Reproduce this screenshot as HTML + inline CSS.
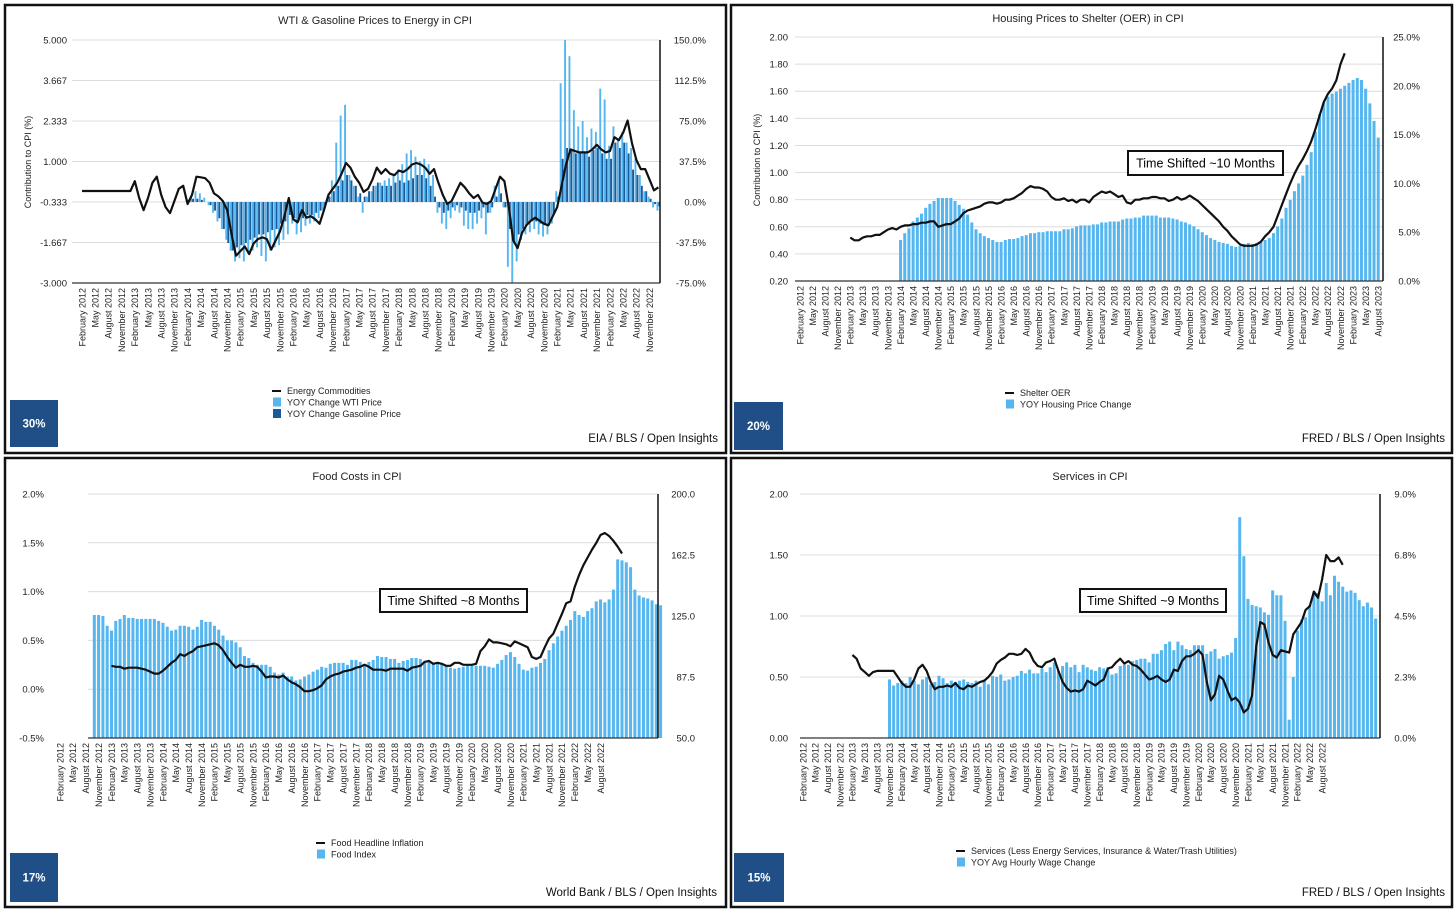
<!DOCTYPE html>
<html><head><meta charset="utf-8">
<style>
html,body{margin:0;padding:0;background:#fff;}
svg{display:block;font-family:"Liberation Sans",Arial,sans-serif;}
</style></head>
<body>
<svg id="root" width="1456" height="910" viewBox="0 0 1456 910"></svg>
<script>
// ---------- DATA (monthly, index 0 = February 2012) ----------
// Panel 1: Energy
const energyLine = [
 0.03,0.03,0.03,0.03,0.03,0.03,0.03,0.03,0.03,0.03,0.03,0.03,
 0.35,-0.2,-0.6,-0.2,0.3,0.5,-0.1,-0.5,-0.7,-0.3,0.1,0.2,
 -0.4,-0.1,0.5,0.48,0.45,0.3,-0.05,-0.15,-0.3,-0.6,-1.4,-2.1,
 -1.95,-1.8,-2.05,-1.7,-1.55,-1.5,-1.55,-1.9,-1.6,-1.3,-0.8,-0.2,
 -0.9,-1.0,-0.6,-0.85,-0.8,-0.9,-1.05,-0.6,-0.1,0.1,0.3,0.6,
 0.95,0.8,0.5,0.3,0.0,0.1,0.4,0.8,0.6,0.75,0.6,0.55,
 0.7,0.65,0.75,0.9,0.95,0.9,0.8,0.6,0.75,0.3,-0.1,-0.4,
 -0.3,0.0,0.3,0.15,-0.05,-0.2,-0.1,-0.35,-0.4,-0.3,0.1,0.5,
 0.35,-0.5,-1.6,-1.85,-1.35,-1.1,-0.95,-0.85,-0.95,-1.05,-1.1,-0.8,
 -0.5,0.2,0.9,1.4,1.35,1.3,1.3,1.3,1.4,1.55,1.4,1.3,
 1.35,1.8,1.7,1.95,2.35,1.6,1.05,0.75,0.75,0.4,0.05,0.15];
const energyBarStart = 24;
const wtiYoy = [
 2,6,10,8,4,-3,-10,-18,-25,-35,-45,-55,
 -52,-55,-48,-45,-42,-50,-55,-45,-42,-40,-35,-30,
 -20,-30,-28,-22,-20,-18,-15,-8,2,20,55,80,
 90,25,15,5,-10,5,10,15,18,20,22,25,
 30,35,45,48,42,38,40,35,25,-10,-20,-25,
 -15,-8,-10,-22,-25,-25,-20,-15,-30,-10,15,20,
 -5,-60,-75,-55,-35,-30,-28,-25,-30,-32,-30,-20,
 10,110,150,135,85,70,75,60,68,65,105,95,
 52,70,58,65,55,50,40,25,10,5,-5,-8];
const gasolineYoy = [
 2,3,3,2,0,-3,-8,-15,-25,-38,-45,-42,
 -40,-38,-35,-33,-30,-30,-28,-26,-25,-20,-18,-12,
 -15,-18,-15,-12,-12,-10,-8,-3,5,10,15,20,
 25,20,15,8,5,10,15,18,15,15,15,18,
 20,18,20,22,25,25,22,15,5,-5,-10,-8,
 -5,-3,-5,-8,-10,-10,-8,-5,-10,-5,5,8,
 -5,-25,-38,-30,-25,-20,-18,-18,-20,-20,-18,-10,
 5,40,50,48,45,45,45,42,48,50,45,40,
 40,55,50,55,45,30,25,15,10,3,-2,-4];
const energyLeftTicks = ["5.000","3.667","2.333","1.000","-0.333","-1.667","-3.000"];
const energyRightTicks = ["150.0%","112.5%","75.0%","37.5%","0.0%","-37.5%","-75.0%"];

// Panel 2: Housing
const shelterStart = 12;
const shelterLine = [
 0.52,0.50,0.50,0.52,0.53,0.53,0.54,0.54,0.56,0.58,0.59,0.58,
 0.60,0.61,0.61,0.62,0.62,0.63,0.63,0.64,0.64,0.60,0.61,0.62,
 0.62,0.64,0.66,0.70,0.72,0.73,0.74,0.75,0.77,0.78,0.78,0.77,
 0.78,0.80,0.80,0.81,0.83,0.85,0.88,0.90,0.89,0.89,0.88,0.86,
 0.82,0.80,0.80,0.81,0.79,0.80,0.78,0.80,0.80,0.78,0.82,0.84,
 0.86,0.85,0.86,0.84,0.82,0.83,0.78,0.77,0.80,0.80,0.81,0.81,
 0.82,0.82,0.81,0.81,0.79,0.80,0.82,0.80,0.81,0.83,0.81,0.79,
 0.76,0.73,0.70,0.67,0.64,0.60,0.57,0.53,0.50,0.47,0.46,0.46,
 0.46,0.47,0.49,0.53,0.56,0.60,0.68,0.76,0.84,0.92,0.99,1.05,
 1.10,1.16,1.23,1.32,1.42,1.52,1.58,1.62,1.68,1.80,1.88];
const housingBarStart = 24;
const housingYoy = [
 4.2,4.9,5.4,6.1,6.5,6.9,7.5,7.9,8.2,8.5,8.5,8.5,
 8.5,8.2,7.8,7.4,6.8,6.0,5.3,4.9,4.6,4.4,4.2,4.0,
 4.0,4.2,4.3,4.3,4.4,4.6,4.7,4.9,4.9,5.0,5.0,5.1,
 5.1,5.1,5.1,5.3,5.3,5.4,5.6,5.7,5.7,5.7,5.8,5.8,
 6.0,6.0,6.1,6.1,6.1,6.3,6.4,6.4,6.5,6.5,6.7,6.7,
 6.7,6.7,6.5,6.5,6.5,6.4,6.3,6.1,6.0,5.8,5.6,5.3,
 5.0,4.7,4.4,4.2,4.0,3.9,3.8,3.6,3.5,3.6,3.8,3.9,
 3.8,3.9,4.0,4.2,4.4,4.9,5.6,6.4,7.5,8.3,9.2,10.0,
 10.8,11.9,13.2,15.3,17.1,18.3,18.9,19.2,19.4,19.7,20.0,20.3,
 20.6,20.8,20.6,19.7,18.2,16.4,14.7];
const housingLeftTicks = ["2.00","1.80","1.60","1.40","1.20","1.00","0.80","0.60","0.40","0.20"];
const housingRightTicks = ["25.0%","20.0%","15.0%","10.0%","5.0%","0.0%"];

// Panel 3: Food
const foodBarStart = 8;
const foodIndexBars = [
 0.76,0.76,0.75,0.65,
 0.60,0.70,0.72,0.76,0.73,0.73,0.72,0.72,0.72,0.72,0.72,0.70,
 0.68,0.64,0.60,0.61,0.65,0.65,0.64,0.61,0.64,0.71,0.69,0.69,
 0.65,0.61,0.55,0.50,0.50,0.48,0.43,0.34,0.32,0.27,0.25,0.25,
 0.25,0.23,0.17,0.15,0.17,0.13,0.13,0.09,0.10,0.13,0.15,0.18,
 0.20,0.23,0.22,0.26,0.27,0.27,0.27,0.25,0.30,0.30,0.28,0.26,
 0.28,0.30,0.34,0.33,0.33,0.31,0.31,0.27,0.29,0.30,0.32,0.32,
 0.31,0.29,0.28,0.27,0.26,0.26,0.24,0.22,0.21,0.22,0.23,0.24,
 0.24,0.24,0.24,0.24,0.23,0.22,0.26,0.30,0.35,0.38,0.33,0.26,
 0.20,0.19,0.22,0.23,0.27,0.31,0.40,0.47,0.54,0.60,0.65,0.71,
 0.80,0.76,0.74,0.80,0.83,0.90,0.92,0.89,0.92,1.02,1.33,1.32,
 1.30,1.25,1.02,0.96,0.94,0.93,0.91,0.87,0.86];
const foodLineStart = 12;
const foodInflation = [
 0.24,0.23,0.23,0.21,0.22,0.22,0.22,0.21,0.20,0.18,0.16,0.16,
 0.19,0.23,0.27,0.30,0.36,0.34,0.37,0.39,0.43,0.44,0.45,0.46,
 0.47,0.45,0.40,0.33,0.27,0.22,0.25,0.23,0.23,0.24,0.23,0.18,
 0.12,0.13,0.13,0.12,0.14,0.10,0.07,0.05,0.02,-0.02,-0.02,-0.01,
 0.01,0.04,0.10,0.13,0.15,0.16,0.18,0.19,0.20,0.22,0.23,0.25,
 0.23,0.20,0.20,0.20,0.19,0.21,0.21,0.21,0.21,0.19,0.22,0.23,
 0.24,0.28,0.29,0.26,0.27,0.26,0.24,0.24,0.27,0.27,0.25,0.25,
 0.25,0.26,0.39,0.44,0.51,0.48,0.48,0.47,0.46,0.44,0.49,0.47,
 0.45,0.43,0.33,0.31,0.33,0.43,0.52,0.57,0.67,0.77,0.88,0.90,
 1.05,1.17,1.27,1.35,1.43,1.50,1.58,1.60,1.57,1.52,1.46,1.39];
const foodLeftTicks = ["2.0%","1.5%","1.0%","0.5%","0.0%","-0.5%"];
const foodRightTicks = ["200.0","162.5","125.0","87.5","50.0"];

// Panel 4: Services
const wageBarStart = 21;
const wageBars = [
 0.48,0.43,0.45,
 0.47,0.45,0.50,0.47,0.44,0.48,0.50,0.44,0.46,0.51,0.49,0.45,
 0.47,0.46,0.47,0.48,0.46,0.45,0.47,0.42,0.48,0.44,0.51,0.50,
 0.52,0.47,0.48,0.50,0.51,0.55,0.53,0.56,0.53,0.53,0.57,0.54,
 0.58,0.62,0.55,0.59,0.62,0.58,0.60,0.54,0.60,0.58,0.56,0.55,
 0.58,0.57,0.58,0.52,0.53,0.59,0.60,0.60,0.63,0.64,0.65,0.65,
 0.62,0.69,0.69,0.72,0.77,0.79,0.72,0.79,0.76,0.73,0.72,0.76,
 0.76,0.76,0.69,0.71,0.73,0.65,0.67,0.68,0.70,0.82,1.81,1.49,
 1.14,1.09,1.08,1.07,1.03,1.01,1.21,1.17,1.17,0.96,0.15,0.50,
 0.88,0.97,0.99,1.09,1.20,1.19,1.12,1.27,1.17,1.33,1.28,1.24,
 1.20,1.21,1.19,1.13,1.08,1.11,1.07,0.98];
const servicesStart = 12;
const servicesLine = [
 0.68,0.65,0.57,0.54,0.51,0.54,0.55,0.55,0.55,0.55,0.55,0.50,
 0.45,0.42,0.42,0.48,0.57,0.60,0.55,0.46,0.40,0.42,0.42,0.43,
 0.42,0.45,0.41,0.40,0.43,0.42,0.44,0.46,0.47,0.50,0.54,0.61,
 0.64,0.66,0.69,0.69,0.68,0.69,0.73,0.70,0.63,0.59,0.58,0.62,
 0.63,0.65,0.55,0.46,0.41,0.38,0.39,0.38,0.40,0.47,0.45,0.43,
 0.46,0.48,0.57,0.58,0.62,0.65,0.61,0.63,0.60,0.59,0.56,0.52,
 0.48,0.49,0.51,0.48,0.46,0.48,0.56,0.55,0.63,0.67,0.67,0.69,
 0.72,0.68,0.46,0.31,0.36,0.51,0.48,0.39,0.31,0.33,0.29,0.21,
 0.24,0.35,0.75,0.95,0.93,0.78,0.68,0.66,0.72,0.71,0.70,0.85,
 0.90,0.95,1.05,1.08,1.20,1.15,1.30,1.50,1.45,1.45,1.48,1.42];
const servicesLeftTicks = ["2.00","1.50","1.00","0.50","0.00"];
const servicesRightTicks = ["9.0%","6.8%","4.5%","2.3%","0.0%"];

const monthNames = ["February","May","August","November"];

// ---------- RENDERING ----------
const NS = "http://www.w3.org/2000/svg";
const root = document.getElementById('root');
const LIGHT = "#55b6f0", DARK = "#1b5b9a";
function mk(tag, attrs, parent){
  const e = document.createElementNS(NS, tag);
  for (const k in attrs) e.setAttribute(k, attrs[k]);
  (parent||root).appendChild(e);
  return e;
}
function txt(parent, x, y, s, size, anchor, extra){
  const t = mk('text', Object.assign({x:x, y:y, 'font-size':size, 'text-anchor':anchor||'start', fill:'#222'}, extra||{}), parent);
  t.textContent = s;
  return t;
}

function panel(cfg){
  const g = mk('g', {});
  
  
  const border = mk('rect', {x:cfg.box[0], y:cfg.box[1], width:cfg.box[2], height:cfg.box[3], fill:'#fff', stroke:'#111', 'stroke-width':2.5}, g);
  
  
  // title
  const title = txt(g, cfg.titleX, cfg.titleY, cfg.title, 11, 'middle');
  
  
  // axes scales
  const yL = v => cfg.yTop + (cfg.lMax - v) / (cfg.lMax - cfg.lMin) * (cfg.yBot - cfg.yTop);
  const yR = v => cfg.yTop + (cfg.rMax - v) / (cfg.rMax - cfg.rMin) * (cfg.yBot - cfg.yTop);
  const xM = i => cfg.x0 + i * cfg.step;
  // gridlines + left ticks
  const nL = cfg.leftTicks.length;
  cfg.leftTicks.forEach((s, k) => {
    const y = cfg.yTop + k * (cfg.yBot - cfg.yTop) / (nL - 1);
    const gl = mk('line', {x1:cfg.gx0, x2:cfg.gx1, y1:y, y2:y, stroke:'#dcdcdc', 'stroke-width':1}, g);
    
    
    const t = txt(g, cfg.lLabelX, y + 3.5, s, 9.5, 'end');
    
    
  });
  const nR = cfg.rightTicks.length;
  cfg.rightTicks.forEach((s, k) => {
    const y = cfg.yTop + k * (cfg.yBot - cfg.yTop) / (nR - 1);
    const t = txt(g, cfg.rLabelX, y + 3.5, s, 9.5, 'end');
    
    
  });
  if (cfg.yTitle){
    const t = txt(g, 0, 0, cfg.yTitle, 9, 'middle', {transform:'translate(' + cfg.yTitle.x + ',' + cfg.yTitleY + ') rotate(-90)'});
  }
  // bars
  cfg.drawBars(g, xM, yL, yR);
  // axes lines
  const ax = mk('line', {x1:cfg.gx0, x2:cfg.gx1, y1:cfg.yBot, y2:cfg.yBot, stroke:'#333', 'stroke-width':1.2}, g);
  
  
  const ra = mk('line', {x1:cfg.gx1, x2:cfg.gx1, y1:cfg.yTop, y2:cfg.yBot, stroke:'#111', 'stroke-width':1.5}, g);
  
  
  // line series
  cfg.lines.forEach(L => {
    const pts = L.data.map((v, k) => xM(L.start + k).toFixed(1) + ',' + yL(v).toFixed(1)).join(' ');
    const pl = mk('polyline', {points:pts, fill:'none', stroke:'#111', 'stroke-width':2.2, 'stroke-linejoin':'round'}, g);
    
    
  });
  // x labels
  for (let i = 0, k = 0; i <= cfg.lastLabel; i += 3, k++){
    const s = monthNames[k % 4] + ' ' + (2012 + Math.floor((i + 1) / 12));
    const x = xM(i) + 3.3;
    const t = txt(g, x, cfg.yBot + 5, s, 9, 'end', {transform:'rotate(-90 ' + x + ' ' + (cfg.yBot + 5) + ')'});
    
    
  }
  // time shift box
  if (cfg.shift){
    const b = cfg.shift;
    const r = mk('rect', {x:b[0], y:b[1], width:b[2], height:b[3], fill:'#fff', stroke:'#111', 'stroke-width':2}, g);
    
    
    const t = txt(g, b[0] + b[2] / 2, b[1] + b[3] / 2 + 4.5, b[4], 12.5, 'middle', {fill:'#000'});
    
    
  }
  // legend
  cfg.legend.forEach((L, k) => {
    const y = cfg.legY + k * 11.5;
    if (L.type === 'line'){
      const s = mk('line', {x1:cfg.legX, x2:cfg.legX + 9, y1:y - 3, y2:y - 3, stroke:'#111', 'stroke-width':2}, g);
      
      
    } else {
      const s = mk('rect', {x:cfg.legX + 1, y:y - 8, width:8, height:9, fill:L.color}, g);
      
      
    }
    const t = txt(g, cfg.legX + 15, y, L.label, 9, 'start');
    
    
  });
  // badge
  const bd = cfg.badge;
  const br = mk('rect', {x:bd[0], y:bd[1], width:bd[2], height:bd[3], fill:'#1f4f86'}, g);
  
  
  const bt = txt(g, bd[0] + bd[2] / 2, bd[1] + bd[3] / 2 + 4, bd[4], 11.5, 'middle', {fill:'#fff', 'font-weight':'bold'});
  
  
  // source
  const src = txt(g, cfg.srcX, cfg.srcY, cfg.source, 11.5, 'end', {fill:'#111'});
  
  
  return {g, yL, yR, xM};
}

function yTitleText(g, x, y, s){
  const t = txt(g, x, y, s, 9, 'middle', {transform:'rotate(-90 ' + x + ' ' + y + ')'});
  
  
}

// Panel 1
const p1 = panel({
  name:'energy-chart', box:[5,5,721,448], title:'WTI & Gasoline Prices to Energy in CPI', titleX:375, titleY:24,
  yTop:40, yBot:283, lMax:5, lMin:-3, rMax:150, rMin:-75, x0:82, step:4.4, gx0:72, gx1:660,
  leftTicks:energyLeftTicks, rightTicks:energyRightTicks, lLabelX:67, rLabelX:706, lastLabel:129,
  lines:[{name:'energy-commodities-line', data:energyLine, start:0}],
  drawBars:(g, xM, yL, yR) => {
    wtiYoy.forEach((v, k) => {
      const x = xM(energyBarStart + k);
      const y0 = yR(0), y1 = yR(v);
      const r = mk('rect', {x:x - 1.9, y:Math.min(y0, y1), width:1.9, height:Math.abs(y1 - y0), fill:LIGHT}, g);
      
      
    });
    gasolineYoy.forEach((v, k) => {
      const x = xM(energyBarStart + k);
      const y0 = yR(0), y1 = yR(v);
      const r = mk('rect', {x:x + 0.1, y:Math.min(y0, y1), width:1.9, height:Math.abs(y1 - y0), fill:DARK}, g);
      
      
    });
  },
  legX:272, legY:394, legend:[{type:'line', label:'Energy Commodities'},{type:'bar', color:LIGHT, label:'YOY Change WTI Price'},{type:'bar', color:DARK, label:'YOY Change Gasoline Price'}],
  badge:[10,400,48,47,'30%'], srcX:718, srcY:442, source:'EIA / BLS / Open Insights'
});
yTitleText(p1.g, 31, 162, 'Contribution to CPI (%)');

// Panel 2
const p2 = panel({
  name:'housing-chart', box:[731,5,721,448], title:'Housing Prices to Shelter (OER) in CPI', titleX:1088, titleY:22,
  yTop:37, yBot:281, lMax:2.0, lMin:0.2, rMax:25, rMin:0, x0:800, step:4.19, gx0:795, gx1:1383,
  leftTicks:housingLeftTicks, rightTicks:housingRightTicks, lLabelX:788, rLabelX:1420, lastLabel:138,
  lines:[{name:'shelter-oer-line', data:shelterLine, start:shelterStart}],
  drawBars:(g, xM, yL, yR) => {
    housingYoy.forEach((v, k) => {
      const x = xM(housingBarStart + k);
      const r = mk('rect', {x:x - 1.5, y:yR(v), width:3, height:yR(0) - yR(v), fill:LIGHT}, g);
      
      
    });
  },
  shift:[1128,151,155,24,'Time Shifted ~10 Months'],
  legX:1005, legY:396, legend:[{type:'line', label:'Shelter OER'},{type:'bar', color:LIGHT, label:'YOY Housing Price Change'}],
  badge:[734,402,49,48,'20%'], srcX:1445, srcY:442, source:'FRED / BLS / Open Insights'
});
yTitleText(p2.g, 760, 160, 'Contribution to CPI (%)');

// Panel 3
panel({
  name:'food-chart', box:[5,458,721,449], title:'Food Costs in CPI', titleX:357, titleY:480,
  yTop:494, yBot:738, lMax:2.0, lMin:-0.5, rMax:200, rMin:50, x0:60, step:4.29, gx0:88, gx1:658,
  leftTicks:foodLeftTicks, rightTicks:foodRightTicks, lLabelX:44, rLabelX:695, lastLabel:126,
  lines:[{name:'food-headline-inflation-line', data:foodInflation, start:foodLineStart}],
  drawBars:(g, xM, yL, yR) => {
    foodIndexBars.forEach((v, k) => {
      const x = xM(foodBarStart + k);
      const r = mk('rect', {x:x - 1.5, y:yL(v), width:3, height:yL(-0.5) - yL(v), fill:LIGHT}, g);
      
      
    });
  },
  shift:[380,589,147,23,'Time Shifted ~8 Months'],
  legX:316, legY:846, legend:[{type:'line', label:'Food Headline Inflation'},{type:'bar', color:LIGHT, label:'Food Index'}],
  badge:[10,853,48,49,'17%'], srcX:717, srcY:896, source:'World Bank / BLS / Open Insights'
});

// Panel 4
panel({
  name:'services-chart', box:[731,458,721,449], title:'Services in CPI', titleX:1090, titleY:480,
  yTop:494, yBot:738, lMax:2.0, lMin:0, rMax:9, rMin:0, x0:803, step:4.12, gx0:800, gx1:1380,
  leftTicks:servicesLeftTicks, rightTicks:servicesRightTicks, lLabelX:788, rLabelX:1416, lastLabel:126,
  lines:[{name:'services-line', data:servicesLine, start:servicesStart}],
  drawBars:(g, xM, yL, yR) => {
    wageBars.forEach((v, k) => {
      const x = xM(wageBarStart + k);
      const r = mk('rect', {x:x - 1.5, y:yL(v), width:3, height:yL(0) - yL(v), fill:LIGHT}, g);
      
      
    });
  },
  shift:[1080,589,146,23,'Time Shifted ~9 Months'],
  legX:956, legY:854, legend:[{type:'line', label:'Services (Less Energy Services, Insurance & Water/Trash Utilities)'},{type:'bar', color:LIGHT, label:'YOY Avg Hourly Wage Change'}],
  badge:[734,853,50,49,'15%'], srcX:1445, srcY:896, source:'FRED / BLS / Open Insights'
});
</script>
</body></html>
